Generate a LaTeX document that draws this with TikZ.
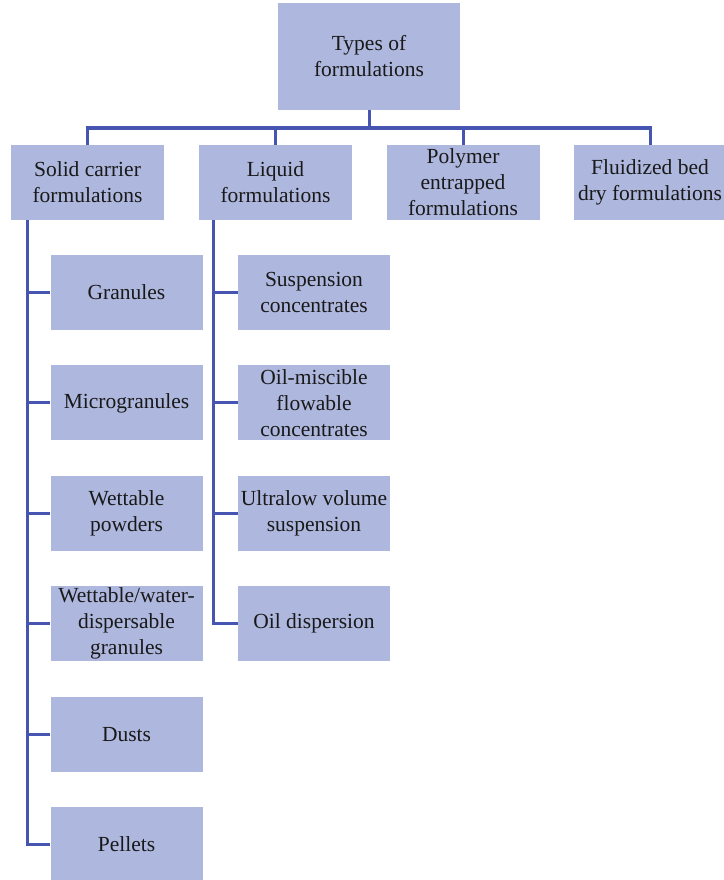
\documentclass[tikz,border=0pt]{standalone}
\usepackage{fontspec}
\setmainfont{LiberationSerif}[Extension=.ttf, UprightFont=*-Regular, BoldFont=*-Bold]
\usetikzlibrary{positioning}
\definecolor{boxfill}{RGB}{174,183,221}
\definecolor{linkblue}{RGB}{70,84,178}

\begin{document}
\begin{tikzpicture}[
  x=1pt, y=-1pt,
  font=\fontsize{21.5}{26}\selectfont,
  box/.style={fill=boxfill, inner xsep=2pt, inner ysep=0pt, minimum width=153pt, minimum height=75pt, align=center, text=black!90},
  leaf/.style={box, minimum width=152pt},
  link/.style={draw=linkblue, line width=3pt}
]
  \useasboundingbox (0,0) rectangle (723,880);
  \node[box, minimum width=182pt, minimum height=107pt] (types) at (369,56.5) {Types of\\formulations};
  \node[box] (solid) at (87.5,182.5) {Solid carrier\\formulations};
  \node[box] (liquid) at (275.5,182.5) {Liquid\\formulations};
  \node[box] (polymer) at (463,182.5) {Polymer\\entrapped\\formulations};
  \node[box] (fluid) at (650,182.5) {Fluidized bed\\dry formulations};

  % solid carrier
  \node[leaf] (granules) at (126.5,292.5) {Granules};
  \node[leaf, below=35pt of granules] (micro) {Microgranules};
  \node[leaf, below=35pt of micro] (powders) {Wettable\\powders};
  \node[leaf, below=35pt of powders] (dispgran) {Wettable/water-\\dispersable\\granules};
  \node[leaf, below=35pt of dispgran] (dusts) {Dusts};
  \node[leaf, below=35pt of dusts] (pellets) {Pellets};

  % liquid
  \node[leaf] (suscon) at (314,292.5) {Suspension\\concentrates};
  \node[leaf, below=35pt of suscon] (oilmisc) {Oil-miscible\\flowable\\concentrates};
  \node[leaf, below=35pt of oilmisc] (ultralow) {Ultralow volume\\suspension};
  \node[leaf, below=35pt of ultralow] (oildisp) {Oil dispersion};

  \coordinate (bar) at (0,128);
  \coordinate (sspine) at (27.5,0);
  \coordinate (lspine) at (213.5,0);
  \draw[link] (types.south) -- (types.south |- bar);
  \draw[link] (solid.north) |- (fluid.north |- bar) -- (fluid.north);
  \draw[link] (liquid.north) -- (liquid.north |- bar);
  \draw[link] (polymer.north) -- (polymer.north |- bar);

  \draw[link] (sspine |- solid.south) |- (pellets.west);
  \foreach \n in {granules, micro, powders, dispgran, dusts}
    \draw[link] (sspine |- \n.west) -- (\n.west);
  \draw[link] (lspine |- liquid.south) |- (oildisp.west);
  \foreach \n in {suscon, oilmisc, ultralow}
    \draw[link] (lspine |- \n.west) -- (\n.west);
\end{tikzpicture}
\end{document}
